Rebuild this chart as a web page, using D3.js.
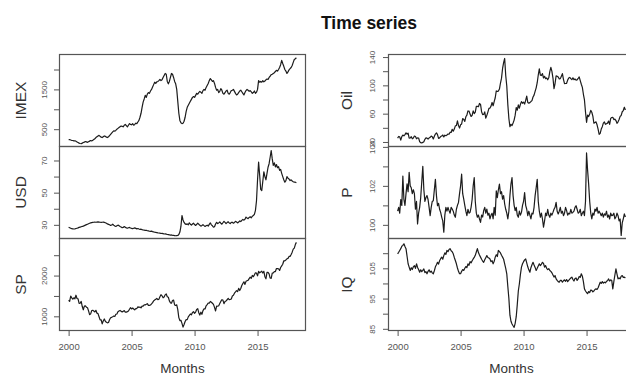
<!DOCTYPE html>
<html>
<head>
<meta charset="utf-8">
<script src="https://cdn.jsdelivr.net/npm/d3@7/dist/d3.min.js"></script>
<style>
  body { margin: 0; background: #fff; }
  svg { display: block; }
  text { font-family: "Liberation Sans", Arial, sans-serif; }
</style>
</head>
<body>
<svg id="chart" width="626" height="375"></svg>
<script>
// Monthly observations, January 2000 to February 2018
const startYear = 2000;
const yearTicks = [2000, 2005, 2010, 2015];

const imex = [
  235, 240, 228, 220, 215, 205, 210, 195, 180, 165, 150, 140,
  135, 150, 165, 175, 190, 180, 170, 185, 200, 215, 205, 220,
  240, 260, 290, 310, 330, 345, 320, 300, 290, 310, 330, 320,
  300, 290, 310, 340, 370, 400, 430, 460, 450, 470, 500, 520,
  540, 560, 580, 570, 560, 600, 620, 590, 560, 600, 640, 620,
  610, 640, 600, 620, 650, 640, 680, 720, 800, 900, 1050, 1180,
  1260, 1350, 1300, 1380, 1420, 1400, 1460, 1500, 1560, 1620, 1680, 1650,
  1690, 1700, 1720, 1750, 1720, 1740, 1800, 1850, 1900, 1880, 1700, 1640,
  1700, 1800, 1900, 1880, 1800, 1700, 1640, 1500, 1200, 900, 720, 660,
  640, 650, 700, 800, 950, 1050, 1100, 1150, 1200, 1250, 1300, 1320,
  1300, 1350, 1400, 1380, 1420, 1450, 1430, 1400, 1470, 1500, 1480, 1550,
  1600, 1650, 1720, 1770, 1740, 1700, 1720, 1650, 1550, 1480, 1500, 1420,
  1450, 1520, 1480, 1400, 1380, 1420, 1460, 1480, 1400, 1380, 1420, 1470,
  1480, 1500, 1450, 1400, 1360, 1380, 1420, 1460, 1480, 1440, 1400, 1360,
  1420, 1470, 1500, 1480, 1450, 1470, 1440, 1400, 1420, 1460, 1400, 1430,
  1500, 1720, 1680, 1700, 1680, 1720, 1690, 1710, 1740, 1760, 1750, 1800,
  1830, 1870, 1880, 1900, 1920, 1950, 1980, 1960, 2000, 2050, 2120, 2230,
  2150, 2080, 2000, 1960, 1900, 1940, 1990, 2020, 2050, 2100, 2180, 2250,
  2270, 2294
];

const usd = [
  28.5, 28.2, 27.9, 27.6, 27.5, 27.4, 27.5, 27.7, 27.9, 28.1, 28.4, 28.6,
  28.8, 29.0, 29.2, 29.5, 29.8, 30.1, 30.4, 30.7, 31.0, 31.2, 31.4, 31.5,
  31.6, 31.7, 31.6, 31.7, 31.8, 31.7, 31.6, 31.5, 31.6, 31.7, 31.5, 31.3,
  31.0, 30.6, 30.3, 30.0, 29.6, 29.9, 30.4, 29.8, 29.3, 29.0, 29.4, 29.8,
  29.5, 29.0, 28.6, 28.2, 28.4, 28.9, 28.5, 28.1, 27.9, 28.2, 28.4, 28.0,
  27.8, 27.6, 27.9, 28.1, 27.8, 27.5, 27.7, 27.4, 27.2, 27.3, 27.0, 26.8,
  26.7, 26.5, 26.6, 26.3, 26.2, 26.0, 25.9, 26.1, 25.8, 25.6, 25.4, 25.3,
  25.2, 25.0, 24.9, 24.8, 24.6, 24.7, 24.5, 24.3, 24.4, 24.2, 24.0, 23.9,
  23.8, 23.6, 23.7, 23.5, 23.4, 23.3, 23.2, 23.3, 23.4, 24.0, 25.5, 29.0,
  35.8, 33.0, 31.5, 30.6, 30.2, 30.6, 30.0, 31.2, 30.4, 29.8, 30.5, 31.0,
  30.2, 29.6, 30.3, 31.0, 30.4, 29.7, 29.2, 29.6, 30.1, 29.5, 29.0, 29.4,
  29.8, 29.2, 30.3, 31.2, 30.0, 29.4, 28.6, 28.8, 30.5, 31.6, 30.8, 31.2,
  31.8, 31.0, 30.4, 31.3, 32.2, 31.5, 30.8, 31.4, 31.9, 31.2, 30.8, 31.5,
  31.6, 31.0, 31.5, 32.2, 31.8, 31.2, 31.7, 32.4, 32.0, 32.8, 33.4, 32.9,
  33.5, 34.8, 34.2, 33.8, 34.6, 35.0, 34.4, 35.3, 35.8, 36.5, 39.0, 45.0,
  58.0, 69.0, 61.0, 52.0, 51.3, 57.0, 63.0, 60.0, 58.0, 62.0, 65.8, 68.0,
  72.0, 76.2, 71.0, 67.0, 68.5, 66.0, 67.5, 65.5, 66.2, 63.8, 64.5, 62.0,
  60.0, 58.0, 56.5, 57.5, 60.0, 59.0, 58.5, 57.5, 58.0, 57.2, 56.8, 56.5,
  56.5, 56.2
];

const sp = [
  1394, 1366, 1499, 1452, 1421, 1455, 1431, 1518, 1437, 1429, 1315, 1320,
  1366, 1240, 1160, 1249, 1256, 1224, 1211, 1134, 1041, 1060, 1139, 1148,
  1130, 1107, 1147, 1077, 1067, 990, 912, 916, 815, 886, 936, 880,
  856, 841, 848, 917, 964, 975, 990, 1008, 996, 1051, 1058, 1112,
  1131, 1145, 1126, 1107, 1121, 1141, 1102, 1104, 1115, 1130, 1174, 1212,
  1181, 1204, 1181, 1157, 1192, 1191, 1234, 1220, 1229, 1207, 1249, 1248,
  1280, 1281, 1295, 1311, 1270, 1270, 1277, 1304, 1336, 1378, 1401, 1418,
  1438, 1407, 1421, 1482, 1531, 1503, 1455, 1474, 1527, 1549, 1481, 1468,
  1379, 1331, 1323, 1386, 1400, 1280, 1267, 1283, 1165, 969, 896, 903,
  826, 735, 798, 873, 919, 919, 987, 1021, 1057, 1036, 1096, 1115,
  1074, 1104, 1169, 1187, 1089, 1031, 1102, 1049, 1141, 1183, 1181, 1258,
  1286, 1327, 1326, 1364, 1345, 1321, 1292, 1219, 1131, 1253, 1247, 1258,
  1312, 1366, 1408, 1398, 1310, 1362, 1379, 1406, 1441, 1412, 1416, 1426,
  1498, 1515, 1569, 1598, 1631, 1606, 1686, 1633, 1682, 1757, 1806, 1848,
  1783, 1859, 1872, 1884, 1924, 1960, 1931, 2003, 1972, 2018, 2068, 2059,
  1995, 2105, 2068, 2086, 2107, 2063, 2104, 1972, 1920, 2079, 2080, 2044,
  1940, 1932, 2060, 2065, 2097, 2099, 2174, 2171, 2168, 2126, 2199, 2239,
  2279, 2364, 2363, 2384, 2412, 2423, 2470, 2472, 2519, 2575, 2648, 2674,
  2760, 2815
];

const oil = [
  25.5, 27.8, 27.2, 22.7, 27.6, 29.8, 28.6, 30.4, 32.9, 31.1, 32.6, 25.5,
  25.6, 27.5, 24.5, 25.6, 28.4, 27.7, 24.5, 25.8, 25.6, 20.5, 18.9, 18.7,
  19.4, 20.3, 23.7, 25.7, 25.4, 24.1, 25.7, 26.6, 28.4, 27.5, 24.3, 28.2,
  31.2, 32.8, 30.4, 25.0, 25.8, 27.6, 28.4, 29.8, 27.1, 29.6, 28.8, 29.8,
  31.2, 30.9, 33.8, 33.4, 37.9, 35.2, 38.2, 42.7, 43.2, 49.8, 43.1, 39.7,
  44.3, 45.5, 53.1, 51.9, 49.1, 55.6, 57.9, 63.8, 63.7, 59.4, 56.0, 57.6,
  63.9, 60.1, 62.1, 70.4, 70.2, 69.8, 74.4, 73.1, 62.8, 58.7, 58.8, 62.5,
  53.7, 57.6, 62.2, 67.5, 67.9, 70.6, 75.8, 71.2, 77.0, 82.5, 92.1, 91.5,
  91.9, 94.8, 103.3, 110.2, 123.9, 132.0, 138.0, 113.9, 99.1, 72.8, 53.2, 41.6,
  44.9, 43.1, 46.8, 50.9, 57.9, 68.6, 64.9, 72.5, 67.7, 73.2, 77.0, 74.7,
  76.2, 73.6, 78.8, 84.8, 75.9, 74.8, 75.6, 77.1, 78.4, 83.5, 86.2, 91.5,
  96.5, 103.7, 114.6, 123.3, 114.5, 113.9, 116.7, 110.4, 112.8, 109.5, 110.5, 107.9,
  110.7, 119.3, 125.5, 119.8, 110.3, 95.2, 102.6, 113.4, 112.9, 111.7, 109.1, 109.5,
  112.9, 116.5, 108.5, 102.3, 102.6, 102.9, 107.4, 110.3, 111.2, 109.5, 108.1, 110.7,
  108.1, 108.9, 107.5, 107.8, 109.7, 111.9, 106.8, 101.6, 97.1, 87.4, 79.4, 62.3,
  47.8, 58.1, 55.9, 59.5, 64.6, 62.0, 56.6, 46.5, 47.6, 48.4, 44.3, 38.0,
  30.7, 32.2, 38.2, 41.6, 46.7, 48.3, 44.9, 45.8, 46.6, 49.5, 44.8, 53.3,
  54.6, 54.9, 51.6, 52.3, 50.3, 46.4, 48.5, 51.7, 56.2, 57.5, 62.7, 64.4,
  69.1, 65.3
];

const price = [
  100.7, 100.9, 100.6, 101.3, 101.0, 102.5, 101.3, 101.0, 101.6, 102.1, 101.7, 102.7,
  102.0, 101.9, 101.6, 101.8, 101.6, 100.8, 101.2, 100.05, 100.6, 100.9, 101.4, 102.2,
  103.0, 101.8, 101.2, 101.4, 101.5, 101.3, 100.9, 100.47, 100.9, 101.2, 101.24, 101.8,
  102.34, 101.5, 100.98, 101.1, 100.8, 100.64, 100.4, 100.2, 99.62, 100.5, 100.9, 100.7,
  100.9, 100.73, 100.6, 100.9, 100.81, 100.7, 100.5, 100.39, 100.8, 101.0, 101.15, 101.6,
  102.0, 102.6, 101.6, 101.32, 101.0, 100.7, 100.47, 100.8, 100.6, 100.64, 100.9, 101.3,
  102.0, 102.42, 101.2, 100.6, 100.39, 100.5, 100.3, 100.13, 100.5, 100.4, 100.73, 100.9,
  100.6, 100.81, 100.5, 100.6, 100.31, 100.5, 100.6, 100.31, 100.9, 100.5, 101.75, 101.4,
  101.8, 102.09, 101.6, 101.7, 101.32, 101.5, 101.07, 100.8, 100.6, 100.31, 100.7, 101.5,
  102.1, 102.42, 101.5, 101.0, 100.73, 100.9, 100.5, 100.39, 100.7, 100.5, 100.64, 101.0,
  101.2, 101.66, 101.0, 100.8, 100.47, 100.7, 100.5, 100.31, 100.6, 100.56, 100.9, 101.5,
  101.9, 102.34, 101.2, 100.7, 100.39, 100.6, 100.3, 99.88, 100.2, 100.6, 100.47, 100.8,
  100.5, 100.39, 100.6, 100.5, 100.64, 100.8, 100.9, 101.15, 100.7, 100.56, 100.7, 100.9,
  100.6, 100.7, 100.47, 100.6, 100.9, 100.73, 100.5, 100.6, 100.56, 100.8, 100.6, 100.64,
  100.7, 100.9, 100.98, 100.8, 100.6, 100.64, 100.8, 100.47, 100.6, 100.7, 100.47, 101.2,
  103.69, 102.8, 102.09, 101.2, 100.6, 100.31, 100.6, 100.5, 100.81, 100.7, 100.9, 100.6,
  100.7, 100.6, 100.47, 100.6, 100.4, 100.56, 100.5, 100.7, 100.39, 100.5, 100.3, 100.6,
  100.47, 100.5, 100.6, 100.31, 100.4, 100.6, 100.47, 100.2, 100.3, 99.46, 100.1, 100.31,
  100.56, 100.4
];

const iq = [
  109.8, 110.3, 110.9, 111.5, 112.3, 112.6, 113.1, 112.2, 111.5, 109.0, 106.5, 105.4,
  104.3, 105.2, 104.6, 105.5, 105.9, 105.0, 106.5, 105.3, 104.6, 103.7, 104.5, 103.9,
  104.3, 104.8, 103.6, 103.9, 103.2, 104.0, 104.5, 103.7, 104.1, 103.5, 103.2, 104.2,
  105.5, 106.2, 107.0, 106.4, 107.5, 108.2, 108.7, 108.0, 109.2, 110.1, 109.6, 110.9,
  110.5, 111.2, 111.5, 110.8, 110.5, 109.8, 108.6, 107.6, 106.5, 105.1, 104.0, 103.2,
  103.2, 104.0, 104.6, 104.3, 105.0, 105.6, 105.2, 106.5, 106.0, 107.2, 106.8, 107.5,
  108.1, 108.6, 109.3, 110.4, 111.5, 110.2, 109.4, 108.7, 108.0, 107.4, 107.0, 107.8,
  108.5, 109.2, 108.6, 108.4, 108.1, 107.2, 107.5, 106.5, 107.3, 108.7, 109.5, 108.9,
  110.9, 110.5, 110.1, 109.3, 108.7, 108.0, 106.5, 105.0, 103.2, 99.0, 95.0, 89.5,
  87.5, 86.6, 86.0, 85.5, 86.8, 89.0, 93.0, 97.5, 99.9, 103.0, 105.4, 106.5,
  107.2, 107.8, 108.1, 106.8, 105.5, 104.5, 103.7, 105.2, 106.2, 107.0, 106.1, 105.3,
  104.3, 105.0, 105.8, 106.5, 105.9, 106.4, 107.0, 106.6, 105.4, 105.9, 105.0, 104.6,
  104.9, 104.3, 104.0, 103.5, 102.8, 102.1, 102.6, 101.5, 101.0, 100.6, 100.4, 101.0,
  101.0, 100.4, 100.9, 101.2, 100.7, 101.3, 100.6, 101.0, 101.4, 101.8, 102.1, 101.3,
  100.8, 101.6, 101.8, 101.0, 101.5, 102.3, 102.0, 103.2, 102.4, 100.6, 98.2, 97.5,
  97.0, 96.6, 97.3, 97.0, 97.8, 97.7, 97.2, 97.5, 98.0, 98.2, 98.0, 98.6,
  99.5, 100.4, 100.0, 100.6, 100.1, 100.4, 100.2, 100.7, 100.9, 101.5, 100.8, 101.2,
  101.0, 98.2, 100.6, 102.8, 104.8, 103.1, 101.5, 101.8, 101.5, 102.4, 102.6, 102.0,
  102.1, 101.8
];

// Panel names, value axes and which tick values carry a label
const seriesNames = ["IMEX", "USD", "SP", "Oil", "P", "IQ"];
const seriesValues = [imex, usd, sp, oil, price, iq];
const valueDomains = [[65, 2377], [21.5, 78.7], [652, 2910], [13.6, 143.6], [99.30, 104.02], [84.44, 114.86]];
const valueTicks = [
  [500, 1000, 1500, 2000], [30, 40, 50, 60, 70], [1000, 1500, 2000, 2500],
  [20, 40, 60, 80, 100, 120, 140], [100, 101, 102, 103, 104], [85, 90, 95, 100, 105, 110]
];
const labelledTicks = [[500, 1500], [30, 50, 70], [1000, 2000], [20, 60, 100, 140], [100, 102, 104], [85, 95, 105]];

const svg = d3.select("#chart");

// Layout: two columns of three stacked panels
const colLeft = [59.5, 388.5];
const colWidth = 246;
const rowTop = 54.5;
const rowHeight = 92;
const tickLen = 5.5;

const t0 = startYear;
const t1 = startYear + (imex.length - 1) / 12;
const tPad = 0.04 * (t1 - t0);

svg.append("text")
  .attr("x", 369).attr("y", 28.5)
  .attr("text-anchor", "middle")
  .attr("font-size", 17.5).attr("font-weight", "bold")
  .attr("fill", "#111")
  .text("Time series");

const line = (x, y) => d3.line()
  .x((d, i) => x(startYear + i / 12))
  .y(d => y(d));

seriesNames.forEach((name, k) => {
  const col = Math.floor(k / 3);
  const row = k % 3;
  const left = colLeft[col];
  const top = rowTop + row * rowHeight;
  const bottom = top + rowHeight;

  const x = d3.scaleLinear().domain([t0 - tPad, t1 + tPad]).range([left, left + colWidth]);
  const y = d3.scaleLinear().domain(valueDomains[k]).range([bottom, top]);

  const g = svg.append("g");

  // series line
  g.append("path")
    .datum(seriesValues[k])
    .attr("d", line(x, y))
    .attr("fill", "none")
    .attr("stroke", "#1c1c1c")
    .attr("stroke-width", 1.2)
    .attr("stroke-linejoin", "round");

  // panel frame
  g.append("rect")
    .attr("x", left).attr("y", top)
    .attr("width", colWidth).attr("height", rowHeight)
    .attr("fill", "none")
    .attr("stroke", "#555")
    .attr("stroke-width", 1.2);

  // value axis
  const labels = labelledTicks[k];
  const yAxis = g.append("g")
    .attr("transform", `translate(${left},0)`)
    .call(d3.axisLeft(y)
      .tickValues(valueTicks[k])
      .tickSize(tickLen)
      .tickFormat(d => labels.includes(d) ? String(d) : ""));
  yAxis.select(".domain").remove();
  yAxis.selectAll(".tick line").attr("stroke", "#555").attr("stroke-width", 1);
  yAxis.selectAll(".tick text")
    .attr("transform", "rotate(-90)")
    .attr("x", 0).attr("y", col === 0 ? -12.8 : -13.8)
    .attr("dy", 0)
    .attr("text-anchor", "middle")
    .attr("font-family", "Liberation Sans, Arial, sans-serif")
    .attr("font-size", 8)
    .attr("fill", "#555");

  // series name
  const cx = col === 0 ? 20 : 346.5;
  g.append("text")
    .attr("transform", `translate(${cx},${(top + bottom) / 2}) rotate(-90)`)
    .attr("dy", "0.36em")
    .attr("text-anchor", "middle")
    .attr("font-size", 15.5)
    .attr("fill", "#333")
    .text(name);

  // time axis under the bottom panel of each column
  if (row === 2) {
    const xAxis = g.append("g")
      .attr("transform", `translate(0,${bottom})`)
      .call(d3.axisBottom(x)
        .tickValues(yearTicks)
        .tickSize(tickLen)
        .tickFormat(d3.format("d")));
    xAxis.select(".domain").remove();
    xAxis.selectAll(".tick line").attr("stroke", "#555");
    xAxis.selectAll(".tick text")
      .attr("y", 13)
      .attr("font-family", "Liberation Sans, Arial, sans-serif")
      .attr("font-size", 9.5)
      .attr("fill", "#555");

    g.append("text")
      .attr("x", left + colWidth / 2).attr("y", 373)
      .attr("text-anchor", "middle")
      .attr("font-size", 13.5)
      .attr("fill", "#333")
      .text("Months");
  }
});
</script>
</body>
</html>
